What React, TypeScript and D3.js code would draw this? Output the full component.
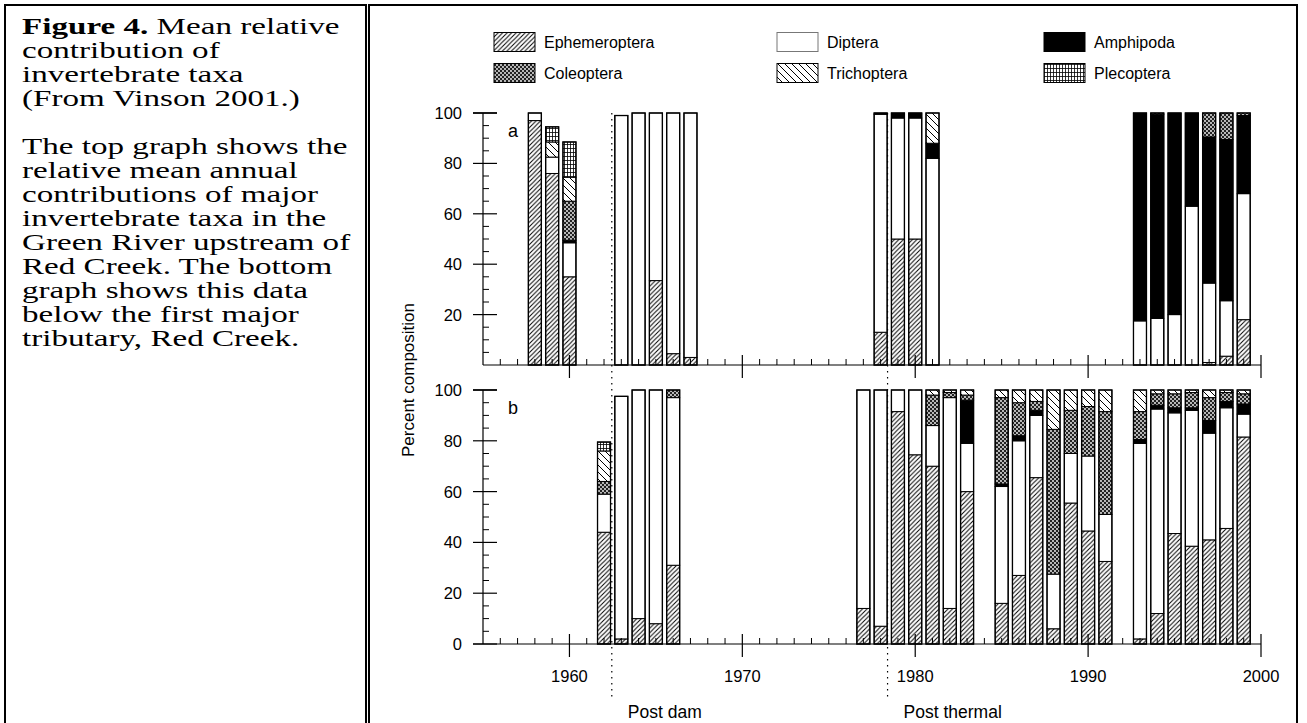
import * as d3 from 'd3';

// taxa in stacking order (bottom -> top)
const taxa = ['Ephemeroptera', 'Diptera', 'Amphipoda', 'Coleoptera', 'Trichoptera', 'Plecoptera'];

// panel a: Green River upstream of Red Creek
const yearsA = [1958, 1959, 1960, 1963, 1964, 1965, 1966, 1967, 1978, 1979, 1980, 1981, 1993, 1994, 1995, 1996, 1997, 1998, 1999];
const ephA = [97, 76, 35, 0, 0, 33.5, 4.5, 3, 13, 50, 50, 0, 0, 0, 0, 0, 1, 3.5, 18];
const dipA = [3, 6.5, 13.5, 99, 100, 66.5, 95.5, 97, 86.5, 48, 48, 82, 17.5, 18.5, 20, 63, 31.5, 22, 50];
const amphA = [0, 0, 1, 0, 0, 0, 0, 0, 0.5, 2, 2, 6, 82.5, 81, 80, 37, 58, 64, 31];
const coleA = [0, 0, 15.5, 0, 0, 0, 0, 0, 0, 0, 0, 0, 0, 0.5, 0, 0, 9.5, 10.5, 1];
const trichA = [0, 6, 9.5, 0, 0, 0, 0, 0, 0, 0, 0, 12, 0, 0, 0, 0, 0, 0, 0];
const plecA = [0, 6, 14, 0, 0, 0, 0, 0, 0, 0, 0, 0, 0, 0, 0, 0, 0, 0, 0];

// panel b: below Red Creek
const yearsB = [1962, 1963, 1964, 1965, 1966, 1977, 1978, 1979, 1980, 1981, 1982, 1983, 1985, 1986, 1987, 1988, 1989, 1990, 1991, 1993, 1994, 1995, 1996, 1997, 1998, 1999];
const ephB = [44, 2, 10, 8, 31, 14, 7, 91.5, 74.5, 70, 14, 60, 16, 27, 65.5, 6, 55.5, 44.5, 32.5, 2, 12, 43.5, 38.5, 41, 45.5, 81.5];
const dipB = [15, 95.5, 90, 92, 66, 86, 93, 8.5, 25.5, 16, 83, 19, 46, 53, 24.5, 21.5, 19.5, 29.5, 18.5, 77, 80.5, 47.5, 53.5, 42, 47.5, 9];
const amphB = [0, 0, 0, 0, 0, 0, 0, 0, 0, 0, 0, 17, 1, 2, 2, 0, 0, 0, 0, 1.5, 1.5, 2, 1, 5, 2.5, 4];
const coleB = [5, 0, 0, 0, 3, 0, 0, 0, 0, 12, 2, 2, 34, 13, 3.5, 57, 17, 19.5, 40.5, 11, 4.5, 5.5, 6, 9, 3.5, 4];
const trichB = [12, 0, 0, 0, 0, 0, 0, 0, 0, 2, 1, 2, 3, 5, 4.5, 15.5, 8, 6.5, 8.5, 8.5, 1.5, 1.5, 1, 3, 1, 1.5];
const plecB = [3.5, 0, 0, 0, 0, 0, 0, 0, 0, 0, 0, 0, 0, 0, 0, 0, 0, 0, 0, 0, 0, 0, 0, 0, 0, 0];

const majorYears = [1960, 1970, 1980, 1990, 2000];
const eventLines = [
    { year: 1962.45, label: 'Post dam' },
    { year: 1978.4, label: 'Post thermal' },
];

const captionLines = [
    'contribution of',
    'invertebrate taxa',
    '(From Vinson 2001.)',
    '',
    'The top graph shows the',
    'relative mean annual',
    'contributions of major',
    'invertebrate taxa in the',
    'Green River upstream of',
    'Red Creek. The bottom',
    'graph shows this data',
    'below the first major',
    'tributary, Red Creek.',
];

const fills: Record<string, string> = {
    Ephemeroptera: 'url(#p-eph)',
    Diptera: '#fff',
    Amphipoda: '#000',
    Coleoptera: 'url(#p-cole)',
    Trichoptera: 'url(#p-trich)',
    Plecoptera: 'url(#p-plec)',
};

const FONT = '"Liberation Sans", Arial, sans-serif';

function toRows(years: number[], cols: number[][]) {
    return years.map((yr, i) => {
        const row: any = { year: yr };
        taxa.forEach((t, k) => (row[t] = cols[k][i]));
        return row;
    });
}

const x = d3.scaleLinear().domain([1955, 2000]).range([483, 1261]);
const BAR_W = 13;

function Panel({ years, cols, y, letter, showZero, showYearLabels }: any) {
    const rows = toRows(years, cols);
    const series = d3.stack().keys(taxa)(rows);
    const y0 = y(0);
    const minorY = d3.range(5, 100, 5).filter(v => v % 20 !== 0);
    const majorY = showZero ? [0, 20, 40, 60, 80, 100] : [20, 40, 60, 80, 100];
    const minorX = d3.range(1956, 2000).filter(v => v % 10 !== 0);
    return (
        <g>
            {/* bars */}
            {series.map(s =>
                s.map((d: any, i: number) =>
                    d[1] - d[0] > 0 ? (
                        <rect key={s.key + i}
                            x={x(d.data.year) - BAR_W / 2} y={y(d[1])}
                            width={BAR_W} height={y(d[0]) - y(d[1])}
                            fill={fills[s.key]} stroke="#000" strokeWidth={1} />
                    ) : null
                )
            )}
            {rows.map((r: any, i: number) => (
                <rect key={'o' + i} x={x(r.year) - BAR_W / 2} y={y(d3.sum(taxa, t => r[t]))}
                    width={BAR_W} height={y0 - y(d3.sum(taxa, t => r[t]))}
                    fill="none" stroke="#000" strokeWidth={1.3} />
            ))}
            {/* y axis */}
            <line x1={x(1955)} x2={x(1955)} y1={y(0)} y2={y(100)} stroke="#000" strokeWidth={1.2} />
            {minorY.map(v => (
                <line key={'my' + v} x1={x(1955)} x2={x(1955) + 6} y1={y(v)} y2={y(v)} stroke="#000" />
            ))}
            {majorY.map(v => (
                <g key={'My' + v}>
                    <line x1={x(1955) - 10} x2={x(1955) + 14} y1={y(v)} y2={y(v)} stroke="#000" strokeWidth={v === 100 ? 1.8 : 1.2} />
                    <text x={462} y={y(v)} dy="0.36em" textAnchor="end" fontSize={16.5} fontFamily={FONT}>{v}</text>
                </g>
            ))}
            {/* x axis */}
            <line x1={showZero ? x(1955) - 10 : x(1955)} x2={x(2000)} y1={y0} y2={y0} stroke="#000" strokeWidth={1.2} />
            {minorX.map(v => (
                <line key={'mx' + v} x1={x(v)} x2={x(v)} y1={y0} y2={y0 - 6} stroke="#000" />
            ))}
            {majorYears.map(v => (
                <g key={'Mx' + v}>
                    <line x1={x(v)} x2={x(v)} y1={y0 - 10} y2={y0 + 13} stroke="#000" strokeWidth={1.2} />
                    {showYearLabels && (
                        <text x={x(v)} y={682} textAnchor="middle" fontSize={16.5} fontFamily={FONT}>{v}</text>
                    )}
                </g>
            ))}
            <text x={513} y={y(100) + 24} textAnchor="middle" fontSize={18} fontFamily={FONT}>{letter}</text>
        </g>
    );
}

const legendCols = [494, 777, 1044];
const legendRows = [32.5, 63.5];
const legendOrder = ['Ephemeroptera', 'Diptera', 'Amphipoda', 'Coleoptera', 'Trichoptera', 'Plecoptera'];

export default function App() {
    const yA = d3.scaleLinear().domain([0, 100]).range([365, 113]);
    const yB = d3.scaleLinear().domain([0, 100]).range([644, 390]);
    const colsA = [ephA, dipA, amphA, coleA, trichA, plecA];
    const colsB = [ephB, dipB, amphB, coleB, trichB, plecB];

    return (
        <svg width={1307} height={723} style={{ position: 'absolute', left: 0, top: 0, background: '#fff' }}>
            <defs>
                <pattern id="p-eph" width={4.5} height={4.5} patternUnits="userSpaceOnUse">
                    <rect width={4.5} height={4.5} fill="#fff" />
                    <path d="M-1,1 L1,-1 M0,4.5 L4.5,0 M3.5,5.5 L5.5,3.5" stroke="#000" strokeWidth={1} />
                </pattern>
                <pattern id="p-cole" width={4} height={4} patternUnits="userSpaceOnUse">
                    <rect width={4} height={4} fill="#222" />
                    <circle cx={1} cy={1} r={0.9} fill="#fff" />
                    <circle cx={3} cy={3} r={0.9} fill="#fff" />
                </pattern>
                <pattern id="p-trich" width={7} height={7} patternUnits="userSpaceOnUse">
                    <rect width={7} height={7} fill="#fff" />
                    <path d="M0,0 L7,7 M-1,6 L1,8 M6,-1 L8,1" stroke="#000" strokeWidth={1} />
                </pattern>
                <pattern id="p-plec" width={3} height={4} patternUnits="userSpaceOnUse">
                    <rect width={3} height={4} fill="#fff" />
                    <path d="M0.5,0 V4 M0,0.5 H3" stroke="#000" strokeWidth={0.8} />
                </pattern>
            </defs>

            {/* frames */}
            <rect x={5} y={5} width={361} height={730} fill="none" stroke="#000" strokeWidth={2} />
            <rect x={369} y={5} width={928} height={730} fill="none" stroke="#000" strokeWidth={2} />

            {/* caption */}
            <g transform="translate(22,0) scale(1.44,1)" fontFamily='"Liberation Serif", "Times New Roman", serif' fontSize={23}>
                <text x={0} y={34}>
                    <tspan fontWeight="bold">Figure 4.</tspan> Mean relative
                </text>
                {captionLines.map((t, i) => (
                    <text key={i} x={0} y={58 + i * 24}>{t}</text>
                ))}
            </g>

            {/* legend */}
            {legendOrder.map((t, i) => {
                const cx = legendCols[i % 3];
                const cy = legendRows[Math.floor(i / 3)];
                return (
                    <g key={t}>
                        <rect x={cx} y={cy} width={41} height={19} fill={fills[t]} stroke={t === 'Diptera' ? '#777' : '#000'} strokeWidth={1} />
                        <text x={cx + 50} y={cy + 9.5} dy="0.36em" fontSize={16} fontFamily={FONT}>{t}</text>
                    </g>
                );
            })}

            <Panel years={yearsA} cols={colsA} y={yA} letter="a" showZero={false} showYearLabels={false} />
            <Panel years={yearsB} cols={colsB} y={yB} letter="b" showZero={true} showYearLabels={true} />

            {/* event lines */}
            {eventLines.map(e => (
                <g key={e.label}>
                    <line x1={x(e.year)} x2={x(e.year)} y1={113} y2={697} stroke="#000" strokeWidth={1.2} strokeDasharray="1.5 4.5" />
                    <text x={x(e.year) + 16} y={718} fontSize={17.5} fontFamily={FONT}>{e.label}</text>
                </g>
            ))}

            <text transform="translate(414,380) rotate(-90)" textAnchor="middle" fontSize={17} fontFamily={FONT}>Percent composition</text>
        </svg>
    );
}
